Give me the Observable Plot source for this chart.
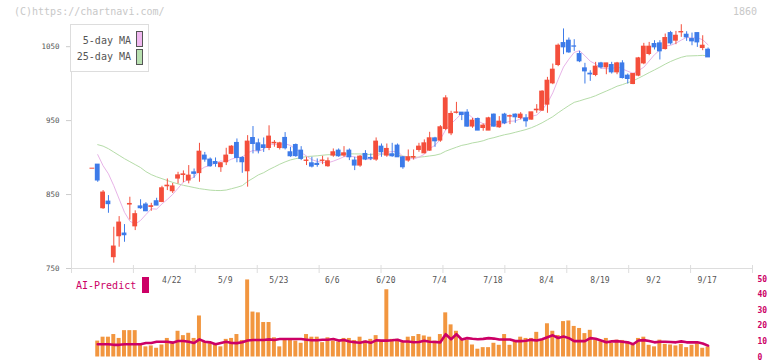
<!DOCTYPE html>
<html><head><meta charset="utf-8">
<script src="https://cdn.jsdelivr.net/npm/d3@7"></script>
<script src="https://cdn.jsdelivr.net/npm/@observablehq/plot@0.6"></script>
<style>
html,body{margin:0;padding:0;background:#fff;overflow:hidden;}
#wrap{position:relative;width:772px;height:361px;overflow:hidden;font-family:"DejaVu Sans Mono",monospace;}
.abs{position:absolute;white-space:nowrap;}
</style></head><body>
<div id="wrap">
  <div id="main" class="abs" style="left:0;top:0"></div>
  <div id="sub" class="abs" style="left:0;top:275px"></div>
  <div class="abs" style="left:14px;top:6px;font-size:10px;line-height:12px;color:#c8c8c8">(C)https://chartnavi.com/</div>
  <div class="abs" style="left:733px;top:6px;font-size:10px;line-height:12px;color:#c8c8c8">1860</div>
  <div class="abs" style="left:70px;top:24px;width:77px;height:46px;border:1px solid #ddd;background:#fff"></div>
  <div class="abs" style="left:70px;top:35px;width:61px;text-align:right;font-size:10px;line-height:12px;color:#555">5-day MA</div>
  <div class="abs" style="left:70px;top:51px;width:61px;text-align:right;font-size:10px;line-height:12px;color:#555">25-day MA</div>
  <div class="abs" style="left:136px;top:31px;width:5px;height:14px;border:1px solid #555;background:#f0b8f0"></div>
  <div class="abs" style="left:136px;top:49px;width:5px;height:14px;border:1px solid #555;background:#b8e0b0"></div>
  <div class="abs" style="left:76px;top:280px;font-size:10px;line-height:12px;color:#cc0066">AI-Predict</div>
  <div class="abs" style="left:142px;top:277px;width:7px;height:16px;background:#cc0066"></div>
</div>
<script>
// ---- candle data (index 0 .. 115) ----
const opens = [885, 890.5, 831.5, 840.5, 765.3, 793.6, 797.3, 836.5, 807, 834,
  836.5, 833.3, 841, 840, 861.2, 854.5, 871.6, 876.5, 869, 880,
  879, 902.7, 897.3, 894, 887, 893.7, 905, 919.8, 899.5, 881.5,
  926.5, 919.3, 916.6, 913, 919.3, 913, 926.6, 907.2, 917, 909.4,
  895.5, 892.3, 891.5, 895.5, 888.3, 902.7, 909.4, 902.7, 909.4, 896,
  889.2, 904.9, 899.5, 897.3, 914.8, 902.7, 904.5, 916.2, 900.4, 896,
  900, 910.3, 905.8, 909.4, 926, 923, 938.7, 932.8, 960.5, 960.8,
  960.8, 942, 952.2, 940, 936.5, 958.1, 941, 958.1, 955.5, 958.1,
  953.6, 953.1, 951.3, 964, 963.5, 971.6, 1000.4, 1025.2, 1054.9, 1058.1,
  1050.4, 1040, 1020.7, 1013.5, 1011.7, 1027.4, 1022, 1025.2, 1015.3, 1027.4,
  1010.8, 999.5, 1010.8, 1027.4, 1040.1, 1053.6, 1054.5, 1046.8, 1068.4, 1058.1,
  1069.3, 1066.2, 1060.3, 1068.4, 1048.2, 1045.9];
const closes = [885, 869, 852.7, 837, 779.7, 812.1, 795, 837.3, 823.5, 831.5,
  827.4, 834.2, 835.1, 858.5, 862, 861, 876, 877.3, 875.6, 878,
  908, 897.3, 888.3, 891.4, 892.3, 902.7, 914.8, 899.5, 893.7, 921.6,
  918.4, 909.4, 913, 928.4, 920, 919.3, 912.6, 901.8, 902, 898.2,
  896, 887.8, 890, 896, 895, 907.2, 901.8, 905.8, 900.4, 889.2,
  901.3, 897.3, 898.5, 921.6, 907.2, 911.7, 901.8, 900.4, 886.9, 900.4,
  900.8, 914.8, 919.3, 926.1, 922, 941, 980.1, 959, 961, 957.6,
  941.9, 950, 936.5, 943.2, 953.1, 941.9, 948.6, 946.4, 956, 954.5,
  958.1, 949.1, 961.2, 964.8, 989.2, 1004, 1018.9, 1051.3, 1049.1, 1042.3,
  1050, 1030.2, 1016.6, 1012.5, 1023, 1022, 1027.4, 1015.3, 1027.4, 1007.6,
  1006.3, 1013, 1034.2, 1050, 1050, 1049.1, 1043.7, 1061.7, 1054.5, 1064.8,
  1069.8, 1062.6, 1057.2, 1055.8, 1051.3, 1035.5];
const highs = [885, 890.5, 855.4, 848.6, 805.8, 820.2, 809.4, 846.4, 828, 843,
  839, 838.2, 845, 861.2, 871.1, 865, 880.1, 882, 889.2, 884.6,
  919.3, 907, 899.5, 899.5, 893.2, 912.6, 916, 925.2, 901.3, 929.7,
  942, 925, 926.6, 943, 923, 920.7, 933.8, 914, 918.4, 914.8,
  900.4, 900.4, 898.2, 901.8, 899.5, 911.7, 911.7, 914.8, 911.7, 900.4,
  902.7, 909.4, 904.9, 926.6, 918.4, 918.4, 919.3, 918.4, 901.3, 910.3,
  910.3, 919.3, 923.9, 934.2, 927.4, 943.2, 983.7, 962.6, 974.7, 960.8,
  964.8, 953.1, 953.6, 945.5, 954.5, 959, 955.4, 959.9, 957.6, 959,
  960.8, 958.1, 961.2, 971.6, 990.5, 1008.5, 1026.5, 1053.6, 1074, 1061.7,
  1059.4, 1043.7, 1027.5, 1017.5, 1028.8, 1028.8, 1027.4, 1028.8, 1028.8, 1031,
  1013, 1013.9, 1035.5, 1054.5, 1055.8, 1058.1, 1058.1, 1067.1, 1070.7, 1070.7,
  1079.7, 1070.2, 1068.4, 1068.4, 1064.8, 1048.2];
const lows = [885, 866.6, 830, 824.7, 757.2, 778.8, 785.5, 815.5, 801.3, 830,
  827, 827.4, 835, 839, 855.4, 851.5, 864.4, 866, 864.5, 872,
  866.6, 893.7, 887, 887, 880, 889.2, 904, 893, 878.8, 860,
  905, 905, 907, 909.4, 914, 910.3, 910.3, 900.4, 900.4, 895.9,
  889.2, 886, 886.9, 890.5, 886.9, 900.4, 900.4, 900.4, 895.9, 882.4,
  886.9, 895.9, 895.9, 895, 900.4, 900.4, 900.4, 900.4, 884.2, 893.7,
  896.8, 907.2, 905, 908.5, 913.9, 920.7, 936.5, 929.7, 959, 950,
  941, 939.6, 936.5, 935.6, 936.5, 941, 939.6, 944.6, 944.6, 946.4,
  950.9, 941, 950.9, 959.9, 962.6, 959.9, 998.6, 1023, 1039.2, 1041,
  1043.7, 1028.4, 999.5, 1003.1, 1009.4, 1019.8, 1012.1, 1013, 1012.1, 1006.3,
  999.5, 998.6, 1009.4, 1025.6, 1037.8, 1045.5, 1032, 1045.5, 1052.2, 1052.7,
  1062.6, 1057.2, 1051.3, 1049, 1044.6, 1035.5];

const ma5Head = [904, 889, 878, 862, 844, 826, 814, 810, 815];
const ma25Head = [917.5, 915.5, 912, 907.5, 903, 898.5, 894.5, 890.5, 886.5, 881,
  877, 874, 871.5, 869, 866.5, 864.5, 862.5, 861, 859.5, 858, 857, 856, 855.5];

// volume (index 1..115) and AI-Predict (index 1..115)
const vols = [10.2, 12.7, 12.7, 14.4, 11.9, 16.9, 16.9, 16.9, 8.5, 6.5,
  7.1, 5.6, 7.7, 11.9, 8.5, 16.5, 13.7, 15.2, 11.9, 26.3,
  9.6, 8.5, 8.1, 6.5, 11.3, 11.9, 14.4, 10.6, 49.4, 28.8,
  28.3, 22.1, 22.1, 12.3, 6.5, 11.3, 11.3, 10.2, 8.8, 14.4,
  12.7, 12.7, 9.2, 12.3, 10.2, 9.6, 11.9, 11.9, 10.6, 12.7,
  10.2, 11.3, 13.7, 10.2, 43.1, 11.3, 11.3, 9.2, 12.7, 13.1,
  14.4, 13.5, 12.7, 10.2, 14.4, 28.3, 20.6, 16.5, 11.3, 10.6,
  7.7, 5.0, 6.0, 6.0, 8.8, 7.5, 14.4, 7.5, 10.2, 12.7,
  11.9, 11.9, 15.8, 10.8, 21.3, 16.5, 13.8, 22.7, 23.1, 19.6,
  18.3, 15.0, 17.1, 10.8, 9.8, 11.9, 8.8, 10.8, 10.6, 9.2,
  7.5, 11.9, 12.7, 7.5, 6.5, 10.8, 8.1, 7.7, 7.1, 8.1,
  6.0, 7.5, 8.5, 5.6, 6.5];
const aiPredict = [8.2, 8.2, 8.2, 7.8, 7.8, 8.2, 8.2, 8.2, 8.2, 9.0,
  9.0, 9.8, 9.8, 9.8, 9.2, 10.3, 10.3, 9.8, 9.0, 11.3,
  9.8, 9.4, 8.2, 9.0, 9.8, 9.0, 8.9, 9.4, 10.6, 10.9,
  10.9, 10.9, 11.3, 10.9, 11.5, 11.5, 11.5, 11.5, 11.5, 11.1,
  10.7, 10.7, 11.1, 11.1, 11.5, 10.5, 10.9, 9.9, 9.5, 9.1,
  9.9, 9.1, 10.7, 10.5, 10.5, 10.7, 11.1, 9.9, 9.9, 9.5,
  9.6, 10.4, 9.8, 9.6, 9.4, 14.6, 11.4, 14.6, 11.2, 12.1,
  11.7, 11.4, 11.6, 12.1, 11.8, 11.2, 11.2, 11.2, 10.2, 10.2,
  10.4, 11.0, 10.6, 11.4, 12.7, 13.9, 12.2, 13.1, 12.1, 10.2,
  10.2, 10.2, 12.1, 11.7, 10.6, 9.4, 10.0, 10.2, 9.8, 9.4,
  8.2, 10.6, 10.8, 10.2, 9.4, 9.8, 9.8, 9.6, 9.4, 10.0,
  9.4, 9.4, 9.4, 8.6, 7.3];

// date tick labels and the candle index they sit under
const dateLabels = ["4/22", "5/9", "5/23", "6/6", "6/20", "7/4", "7/18", "8/4", "8/19", "9/2", "9/17"];
const dateIndex = [15, 25, 35, 45, 55, 65, 75, 85, 95, 105, 115];
const priceTicks = [750, 850, 950, 1050];
const subTicks = [0, 10, 20, 30, 40, 50];

// ---- build ----
const RED = "#f44e3b", BLUE = "#3d7be9";
const FONT = "DejaVu Sans Mono, monospace";
const xDomain = [-3.9, 123.3];
const yDomain = [750, 1080];
const divTicks = d3.range(12).map(k => xDomain[0] + k * (xDomain[1] - xDomain[0]) / 11);

const idx = d3.range(opens.length);
const candles = idx.map(i => ({i, o: opens[i], h: highs[i], l: lows[i], c: closes[i],
  col: closes[i] >= opens[i] ? RED : BLUE}));
const ma5 = idx.slice(1).map(i => ({i, v: i <= ma5Head.length ? ma5Head[i - 1] : d3.mean(closes.slice(i - 4, i + 1))}));
const ma25 = idx.slice(1).map(i => ({i, v: i <= ma25Head.length ? ma25Head[i - 1] : d3.mean(closes.slice(i - 24, i + 1))}));
const volData = vols.map((v, k) => ({i: k + 1, v}));
const aiData = aiPredict.map((v, k) => ({i: k + 1, v}));
const dateData = dateIndex.map((i, k) => ({i, t: dateLabels[k]}));

const main = Plot.plot({
  width: 772, height: 290,
  marginLeft: 71, marginRight: 20, marginTop: 24, marginBottom: 22,
  style: {background: "transparent", fontFamily: FONT, overflow: "visible"},
  x: {type: "linear", domain: xDomain, axis: null, label: null},
  y: {domain: yDomain, axis: null, label: null},
  color: {type: "identity"},
  marks: [
    Plot.ruleY([yDomain[0]], {stroke: "#ddd", insetLeft: -1}),
    Plot.ruleX([xDomain[0]], {stroke: "#ddd", insetBottom: -4}),
    Plot.ruleX(divTicks, {y1: yDomain[0], y2: yDomain[0], insetTop: -3, insetBottom: -5, stroke: "#ddd"}),
    Plot.axisY(priceTicks, {tickSize: 5, tickPadding: 7, stroke: "#ccc", fill: "#555", fontSize: 7.5,
      fontFamily: FONT, tickFormat: d => String(d)}),
    Plot.line(ma25, {x: "i", y: "v", stroke: "#b5dca8", strokeWidth: 1}),
    Plot.line(ma5, {x: "i", y: "v", stroke: "#e8b4e8", strokeWidth: 1}),
    Plot.ruleX(candles, {x: "i", y1: "l", y2: "h", stroke: "col", strokeWidth: 1}),
    Plot.rect(candles, {x1: d => d.i - 0.45, x2: d => d.i + 0.45, y1: "o", y2: "c", fill: "col",
      insetTop: -0.5, insetBottom: -0.5}),
    Plot.text(dateData, {x: "i", text: "t", frameAnchor: "bottom", dy: 14, dx: -1,
      fill: "#555", fontSize: 8, fontFamily: FONT})
  ]
});
document.getElementById("main").append(main);

const sub = Plot.plot({
  width: 772, height: 86,
  marginLeft: 71, marginRight: 20, marginTop: 3.5, marginBottom: 4.5,
  style: {background: "transparent", fontFamily: FONT, overflow: "visible"},
  x: {type: "linear", domain: xDomain, axis: null, label: null},
  y: {domain: [0, 50], axis: null, label: null},
  marks: [
    Plot.rect(volData, {x1: d => d.i - 0.37, x2: d => d.i + 0.37, y1: 0, y2: "v", fill: "#f2963f"}),
    Plot.line(aiData, {x: "i", y: "v", stroke: "#cc0066", strokeWidth: 2.6}),
    Plot.axisY(subTicks, {anchor: "right", tickSize: 0, tickPadding: 5, fill: "#cc0066",
      fontSize: 8, fontWeight: "bold", fontFamily: FONT, tickFormat: d => String(d)})
  ]
});
document.getElementById("sub").append(sub);
</script>
</body></html>
